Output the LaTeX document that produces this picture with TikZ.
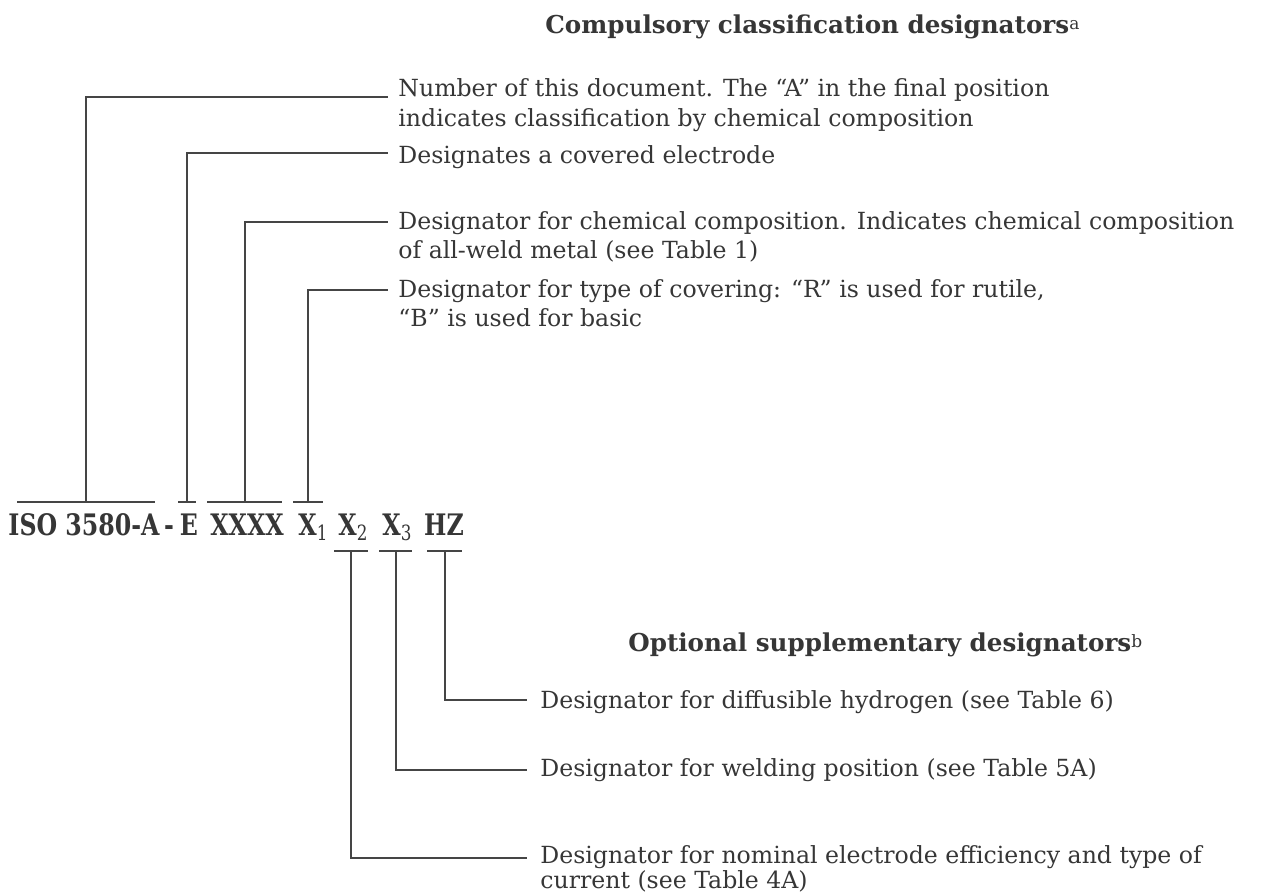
\documentclass[tikz,border=0pt]{standalone}
\usepackage{fontspec}
\setmainfont{DejaVu Serif}
\newfontfamily\codefont[FakeStretch=0.8]{DejaVu Serif}
\usetikzlibrary{calc}
\definecolor{ink}{HTML}{363636}
\definecolor{lin}{HTML}{454545}
\newcommand{\sbx}[1]{\raisebox{-0.35ex}{\mdseries\fontsize{10.5}{10}\selectfont #1}}
\newcommand{\spx}[1]{\raisebox{0.3ex}{\mdseries\fontsize{8.5}{9}\selectfont #1}}
\tikzset{
  ln/.style={draw=lin, line width=1pt},
  body/.style={anchor=base west, inner sep=0pt, text=ink, font=\fontsize{11.8}{14}\selectfont},
  head/.style={anchor=base west, inner sep=0pt, text=ink, font=\bfseries\fontsize{12.3}{14}\selectfont},
  code/.style={anchor=base, inner sep=0pt, text=ink, font=\codefont\bfseries\fontsize{14.8}{18}\selectfont},
}
\begin{document}
\begin{tikzpicture}[x=0.5pt, y=-0.5pt]
\useasboundingbox (0,0) rectangle (1276,895);
% headings
\node[head] (h1) at (545,33) {Compulsory classification designators\spx{a}};
\node[head] (h2) at (628,651) {Optional supplementary designators\spx{b}};
% designation
\node[code] (iso) at (84,535) {ISO 3580-A};
\node[code] (hyph) at (169,535) {-};
\node[code] (e) at (189,535) {E};
\node[code] (xxxx) at (247,535) {XXXX};
\node[code] (x1) at (313,535) {X\sbx{1}};
\node[code] (x2) at (353,535) {X\sbx{2}};
\node[code] (x3) at (397,535) {X\sbx{3}};
\node[code] (hz) at (444,535) {HZ};
% bracket ends
\coordinate (isoL) at (17,502);  \coordinate (isoR) at (155,502);
\coordinate (eL) at (178,502);   \coordinate (eR) at (196,502);
\coordinate (xxL) at (207,502);  \coordinate (xxR) at (282,502);
\coordinate (x1L) at (293,502);  \coordinate (x1R) at (323,502);
\coordinate (x2L) at (334,551);  \coordinate (x2R) at (368,551);
\coordinate (x3L) at (379,551);  \coordinate (x3R) at (412,551);
\coordinate (hzL) at (427,551);  \coordinate (hzR) at (462,551);
% compulsory texts
\node[body] (t1a) at (398,96) {Number of this document. The “A” in the final position};
\node[body] (t1b) at (398,126) {indicates classification by chemical composition};
\node[body] (t2) at (398,163) {Designates a covered electrode};
\node[body] (t3a) at (398,229) {Designator for chemical composition. Indicates chemical composition};
\node[body] (t3b) at (398,258) {of all-weld metal (see Table 1)};
\node[body] (t4a) at (398,297) {Designator for type of covering: “R” is used for rutile,};
\node[body] (t4b) at (398,326) {“B” is used for basic};
% optional texts
\node[body] (t5) at (540,708) {Designator for diffusible hydrogen (see Table 6)};
\node[body] (t6) at (540,776) {Designator for welding position (see Table 5A)};
\node[body] (t7a) at (540,863) {Designator for nominal electrode efficiency and type of};
\node[body] (t7b) at (540,888) {current (see Table 4A)};
% leader ends
\coordinate (c1) at (388,97);
\coordinate (c2) at (388,153);
\coordinate (c3) at (388,222);
\coordinate (c4) at (388,290);
\coordinate (c5) at (527,700);
\coordinate (c6) at (527,770);
\coordinate (c7) at (527,858);
% brackets and leaders
\draw[ln] (isoL) -- (isoR) ($(isoL)!.5!(isoR)$) |- (c1);
\draw[ln] (eL) -- (eR) ($(eL)!.5!(eR)$) |- (c2);
\draw[ln] (xxL) -- (xxR) ($(xxL)!.5!(xxR)$) |- (c3);
\draw[ln] (x1L) -- (x1R) ($(x1L)!.5!(x1R)$) |- (c4);
\draw[ln] (hzL) -- (hzR) ($(hzL)!.5!(hzR)$) |- (c5);
\draw[ln] (x3L) -- (x3R) ($(x3L)!.5!(x3R)$) |- (c6);
\draw[ln] (x2L) -- (x2R) ($(x2L)!.5!(x2R)$) |- (c7);
\end{tikzpicture}
\end{document}
